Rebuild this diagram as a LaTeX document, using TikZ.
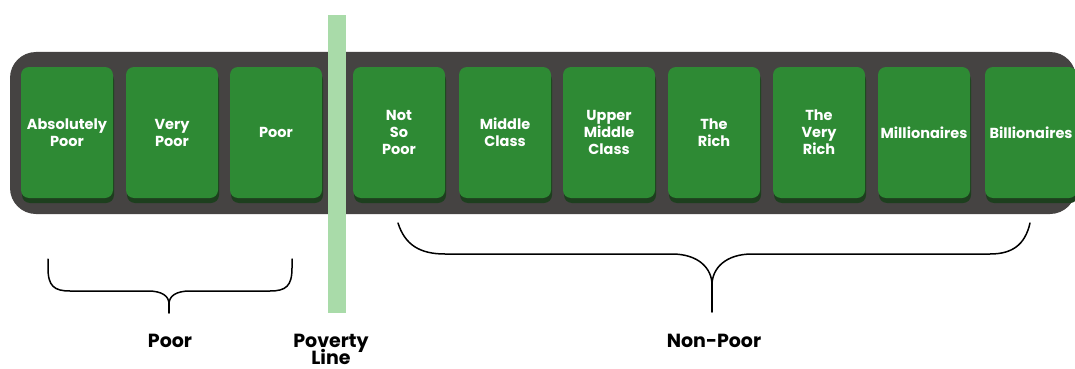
\documentclass[tikz,border=0pt]{standalone}
\usepackage{fontspec}
\setmainfont{Poppins}
\definecolor{bargray}{HTML}{454342}
\definecolor{boxgreen}{HTML}{2E8A34}
\definecolor{shadowgreen}{HTML}{1D3F1E}
\definecolor{linegreen}{HTML}{A9DBA9}
\tikzset{
  x=1pt, y=-1pt,
  catbox/.style={draw=none, fill=boxgreen, rounded corners=8pt, minimum width=92pt, minimum height=131pt,
    text=white, font=\fontsize{14.5}{17}\selectfont\bfseries, align=center, inner sep=0pt},
  catshadow/.style={fill=shadowgreen, rounded corners=8pt},
  bracestyle/.style={draw=black, line width=1.5pt, line cap=round, line join=round},
  biglabel/.style={font=\fontsize{19}{20}\selectfont\bfseries, text=black, align=center, inner sep=0pt}
}
\begin{document}
\begin{tikzpicture}
\useasboundingbox (0,0) rectangle (1075,369);
\clip (0,0) rectangle (1075,369);
% dark bar
\fill[bargray, rounded corners=26pt] (10,52) rectangle (1076,214);
% box shadows
\foreach \x in {21,126,230,353,459,563,668,773,878,985}{
  \fill[catshadow] (\x+1,72) rectangle (\x+93,203);
}
\node[catbox] (b1) at (67,132.5) {Absolutely\\Poor};
\node[catbox] (b2) at (172,132.5) {Very\\Poor};
\node[catbox] (b3) at (276,132.5) {Poor};
\node[catbox] (b4) at (399,132.5) {Not\\So\\Poor};
\node[catbox] (b5) at (505,132.5) {Middle\\Class};
\node[catbox] (b6) at (609,132.5) {Upper\\Middle\\Class};
\node[catbox] (b7) at (714,132.5) {The\\Rich};
\node[catbox] (b8) at (819,132.5) {The\\Very\\Rich};
\node[catbox] (b9) at (924,132.5) {Millionaires};
\node[catbox] (b10) at (1031,132.5) {Billionaires};
% poverty line
\fill[linegreen] (328,15) rectangle (346,313);
% braces
\coordinate (pl) at (48,259);
\coordinate (pr) at (292,259);
\coordinate (pm) at (169,304);
\coordinate (pt) at (169,313);
\draw[bracestyle] (pl) -- (48,268) .. controls (48,286) and (54,291) .. (70,291) -- (148,291)
  .. controls (162,291) and (169,296) .. (pm) .. controls (169,296) and (176,291) .. (190,291)
  -- (270,291) .. controls (286,291) and (292,286) .. (292,268) -- (pr);
\draw[bracestyle] (pm) -- (pt);
\coordinate (nl) at (398,223);
\coordinate (nr) at (1030,223);
\coordinate (nm) at (712,285);
\coordinate (nt) at (712,312);
\draw[bracestyle] (nl) .. controls (405,245) and (420,254) .. (445,254) -- (672,254)
  .. controls (698,254) and (712,268) .. (nm) .. controls (712,268) and (726,254) .. (752,254)
  -- (990,254) .. controls (1012,254) and (1025,245) .. (nr);
\draw[bracestyle] (nm) -- (nt);
% labels
\node[biglabel, anchor=base] (lpoor) at (170,347) {Poor};
\node[biglabel, anchor=base] (lpline) at (331,347) {Poverty};
\node[biglabel, anchor=base] (lpline2) at (331,364) {Line};
\node[biglabel, anchor=base] (lnonpoor) at (714,347) {Non-Poor};
\end{tikzpicture}
\end{document}
